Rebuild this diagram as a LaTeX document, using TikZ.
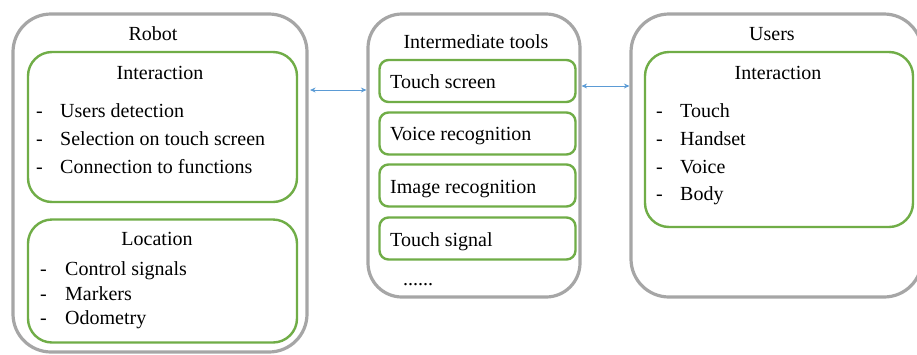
\documentclass[tikz,border=0pt]{standalone}
\usepackage{fontspec}
\setmainfont{Liberation Serif}
\newfontfamily\boxfont{Liberation Serif}
\usetikzlibrary{arrows.meta}

\definecolor{frame}{HTML}{A6A6A6}
\definecolor{leaf}{HTML}{70AD47}
\definecolor{link}{HTML}{5B9BD5}

\tikzset{
  outerbox/.style={draw=frame, line width=3.2pt, rounded corners=38pt, fill=white, inner sep=0pt},
  groupbox/.style={draw=leaf, line width=2.4pt, rounded corners=24pt, inner sep=0pt},
  toolbox/.style={draw=leaf, line width=2.4pt, rounded corners=9pt, inner sep=0pt,
    minimum width=196pt, minimum height=42pt},
  txt/.style={font=\boxfont\fontsize{20}{24}\selectfont, inner sep=0pt},
  linkarrow/.style={draw=link, line width=0.9pt,
    {Stealth[length=5.5pt,width=5pt]}-{Stealth[length=5.5pt,width=5pt]}},
}

\begin{document}
\begin{tikzpicture}[x=1pt,y=-1pt]
\useasboundingbox (0,0) rectangle (917,354);

% ---------- Robot ----------
\node[outerbox, minimum width=294pt, minimum height=338pt] (robot) at (160,183) {};
\node[txt, anchor=base] (robotT) at (153,40) {Robot};

\node[groupbox, minimum width=269pt, minimum height=150pt] (rinter) at (162.5,127) {};
\node[txt, anchor=base] (rinterT) at (160,79) {Interaction};
\node[txt, anchor=base west] (rd1) at (36,117) {-};
\node[txt, anchor=base west] (ri1) at (60,117) {Users detection};
\node[txt, anchor=base west] (rd2) at (36,145) {-};
\node[txt, anchor=base west] (ri2) at (60,145) {Selection on touch screen};
\node[txt, anchor=base west] (rd3) at (36,173) {-};
\node[txt, anchor=base west] (ri3) at (60,173) {Connection to functions};

\node[groupbox, minimum width=269pt, minimum height=123pt] (rloc) at (162.5,281) {};
\node[txt, anchor=base] (rlocT) at (157,245) {Location};
\node[txt, anchor=base west] (ld1) at (40,275) {-};
\node[txt, anchor=base west] (li1) at (65,275) {Control signals};
\node[txt, anchor=base west] (ld2) at (40,300) {-};
\node[txt, anchor=base west] (li2) at (65,300) {Markers};
\node[txt, anchor=base west] (ld3) at (40,324) {-};
\node[txt, anchor=base west] (li3) at (65,324) {Odometry};

% ---------- Intermediate tools ----------
\node[outerbox, rounded corners=34pt, minimum width=212pt, minimum height=283pt] (tools) at (474,155.5) {};
\node[txt, anchor=base] (toolsT) at (476,48) {Intermediate tools};

\node[toolbox] (t1) at (477.5,81) {};
\node[txt, anchor=base west] (t1T) at (390,88) {Touch screen};
\node[toolbox] (t2) at (477.5,133.5) {};
\node[txt, anchor=base west] (t2T) at (390,140) {Voice recognition};
\node[toolbox] (t3) at (477.5,185.5) {};
\node[txt, anchor=base west] (t3T) at (390,193) {Image recognition};
\node[toolbox] (t4) at (477.5,238.5) {};
\node[txt, anchor=base west] (t4T) at (390,246) {Touch signal};
\node[txt, anchor=base west] (more) at (403,285) {......};

% ---------- Users ----------
\node[outerbox, minimum width=291pt, minimum height=283pt] (users) at (776.5,155.5) {};
\node[txt, anchor=base] (usersT) at (772,40) {Users};

\node[groupbox, minimum width=268pt, minimum height=175pt] (uinter) at (779,139.5) {};
\node[txt, anchor=base] (uinterT) at (778,79) {Interaction};
\node[txt, anchor=base west] (ud1) at (656,117) {-};
\node[txt, anchor=base west] (ui1) at (680,117) {Touch};
\node[txt, anchor=base west] (ud2) at (656,145) {-};
\node[txt, anchor=base west] (ui2) at (680,145) {Handset};
\node[txt, anchor=base west] (ud3) at (656,173) {-};
\node[txt, anchor=base west] (ui3) at (680,173) {Voice};
\node[txt, anchor=base west] (ud4) at (656,200) {-};
\node[txt, anchor=base west] (ui4) at (680,200) {Body};

% ---------- connectors ----------
\coordinate (rowA) at (0,90);
\coordinate (rowB) at (0,86);
\draw[linkarrow, shorten <=1.5pt] (robot.east |- rowA) -- (tools.west |- rowA);
\draw[linkarrow] (tools.east |- rowB) -- (users.west |- rowB);
\end{tikzpicture}
\end{document}
